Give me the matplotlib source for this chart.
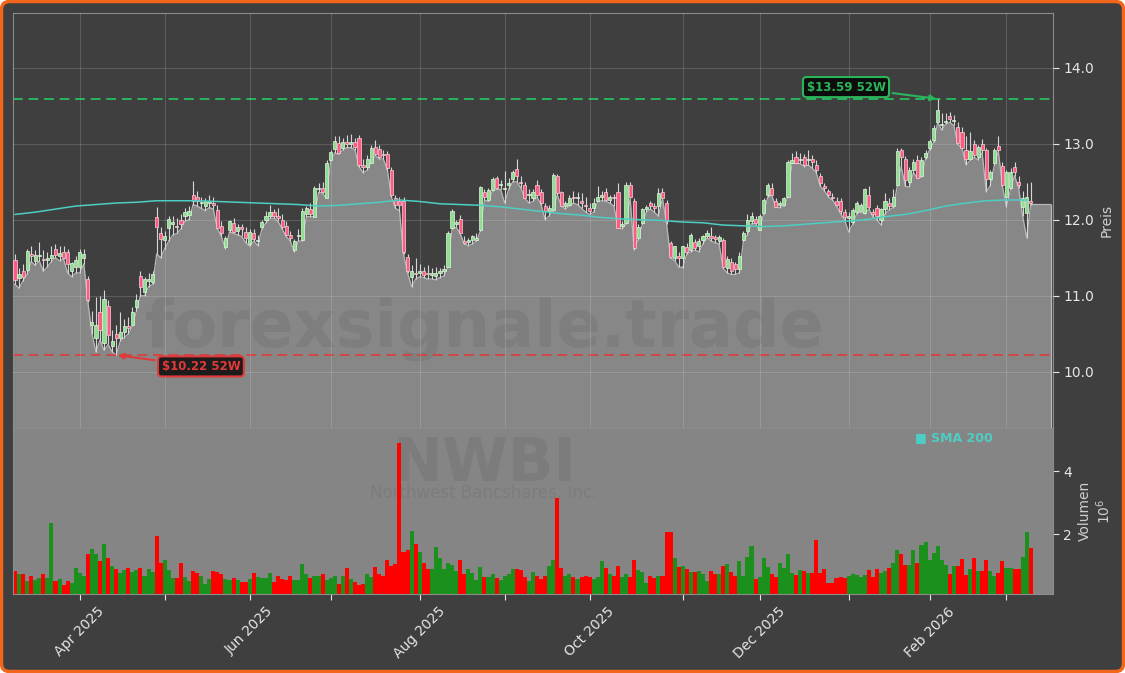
import numpy as np
import pandas as pd
import matplotlib
matplotlib.use("Agg")
import matplotlib.pyplot as plt
from matplotlib.patches import FancyBboxPatch
from matplotlib.transforms import IdentityTransform

# ---------------------------------------
# Data (NWBI, daily)
# ---------------------------------------
holidays = ["2025-04-18", "2025-05-26", "2025-06-19", "2025-07-04", "2025-09-01",
            "2025-11-27", "2025-12-25", "2026-01-01", "2026-01-19", "2026-02-16"]
dates = pd.bdate_range("2025-03-10", "2026-03-10")
dates = dates[~dates.isin(pd.to_datetime(holidays))]

opens = [11.47, 11.24, 11.32, 11.34, 11.55, 11.46, 11.52, 11.48, 11.47, 11.50,
         11.62, 11.52, 11.58, 11.58, 11.32, 11.38, 11.38, 11.50, 11.22, 10.62,
         10.45, 10.78, 10.38, 10.86, 10.34, 10.50, 10.45, 10.52, 10.60, 10.62,
         10.85, 11.26, 11.05, 11.20, 11.18, 12.04, 11.82, 11.74, 11.89, 11.95,
         11.92, 12.00, 12.05, 12.06, 12.33, 12.30, 12.22, 12.18, 12.22, 12.22,
         12.13, 11.92, 11.64, 11.86, 11.96, 11.85, 11.90, 11.84, 11.68, 11.82,
         11.72, 11.91, 12.00, 12.05, 12.10, 12.05, 12.00, 11.92, 11.80, 11.60,
         11.78, 11.74, 12.08, 12.14, 12.04, 12.40, 12.42, 12.28, 12.79, 12.93,
         13.01, 12.94, 13.02, 13.00, 13.02, 13.08, 12.72, 12.70, 12.75, 12.96,
         12.93, 12.87, 12.86, 12.66, 12.29, 12.25, 12.24, 11.51, 11.25, 11.30,
         11.30, 11.32, 11.30, 11.27, 11.26, 11.30, 11.33, 11.38, 11.89, 11.95,
         12.01, 11.72, 11.71, 11.74, 11.74, 11.87, 12.37, 12.26, 12.39, 12.55,
         12.46, 12.40, 12.46, 12.53, 12.67, 12.50, 12.46, 12.32, 12.29, 12.46,
         12.36, 12.18, 12.12, 12.13, 12.57, 12.36, 12.18, 12.20, 12.30, 12.28,
         12.25, 12.20, 12.15, 12.15, 12.25, 12.30, 12.37, 12.26, 12.30, 12.37,
         11.92, 11.96, 12.46, 12.24, 11.76, 11.96, 12.14, 12.22, 12.18, 12.18,
         12.36, 12.22, 11.70, 11.50, 11.52, 11.50, 11.64, 11.60, 11.71, 11.66,
         11.74, 11.78, 11.78, 11.77, 11.72, 11.74, 11.37, 11.45, 11.42, 11.35,
         11.74, 11.85, 11.98, 12.01, 11.87, 12.09, 12.33, 12.42, 12.25, 12.20,
         12.20, 12.30, 12.75, 12.83, 12.78, 12.82, 12.78, 12.80, 12.72, 12.58,
         12.44, 12.38, 12.30, 12.25, 12.25, 12.10, 12.02, 11.97, 12.10, 12.12,
         12.09, 12.33, 12.10, 12.16, 12.00, 12.14, 12.22, 12.18, 12.46, 12.92,
         12.80, 12.50, 12.66, 12.79, 12.58, 12.82, 12.95, 13.05, 13.29, 13.25,
         13.28, 13.36, 13.30, 13.22, 13.16, 12.92, 12.80, 13.00, 12.83, 13.00,
         12.92, 12.53, 12.75, 12.97, 12.71, 12.30, 12.42, 12.70, 12.50, 12.17,
         12.09, 12.25]
highs = [11.55, 11.36, 11.42, 11.62, 11.66, 11.60, 11.71, 11.60, 11.58, 11.66,
         11.68, 11.66, 11.66, 11.62, 11.45, 11.52, 11.62, 11.62, 11.26, 10.80,
         10.98, 11.00, 11.08, 10.95, 10.55, 10.62, 10.78, 10.70, 10.72, 10.85,
         11.02, 11.33, 11.25, 11.30, 11.32, 12.17, 11.90, 11.85, 12.05, 12.05,
         12.02, 12.08, 12.15, 12.18, 12.51, 12.38, 12.30, 12.28, 12.32, 12.30,
         12.20, 11.98, 11.78, 12.00, 12.02, 11.95, 11.95, 11.90, 11.88, 11.88,
         11.80, 12.00, 12.12, 12.20, 12.14, 12.15, 12.08, 11.98, 11.85, 11.75,
         11.88, 12.15, 12.18, 12.22, 12.45, 12.48, 12.50, 12.78, 12.92, 13.10,
         13.10, 13.08, 13.12, 13.13, 13.08, 13.12, 12.80, 12.85, 12.98, 13.05,
         12.98, 12.92, 12.90, 12.70, 12.32, 12.30, 12.30, 11.55, 11.40, 11.50,
         11.42, 11.38, 11.40, 11.36, 11.38, 11.36, 11.40, 11.85, 12.14, 12.00,
         12.06, 11.78, 11.76, 11.80, 11.82, 12.45, 12.40, 12.42, 12.56, 12.58,
         12.52, 12.64, 12.55, 12.66, 12.80, 12.58, 12.50, 12.40, 12.40, 12.52,
         12.40, 12.22, 12.20, 12.62, 12.60, 12.38, 12.24, 12.32, 12.38, 12.36,
         12.35, 12.30, 12.22, 12.28, 12.45, 12.38, 12.42, 12.32, 12.34, 12.48,
         11.98, 12.50, 12.50, 12.28, 11.95, 12.16, 12.20, 12.25, 12.22, 12.42,
         12.42, 12.26, 11.72, 11.65, 11.58, 11.66, 11.70, 11.82, 11.75, 11.76,
         11.80, 11.86, 11.90, 11.80, 11.80, 11.76, 11.52, 11.50, 11.45, 11.58,
         11.85, 12.08, 12.10, 12.05, 12.08, 12.28, 12.48, 12.48, 12.28, 12.25,
         12.30, 12.78, 12.88, 12.90, 12.88, 12.86, 12.92, 12.85, 12.78, 12.62,
         12.48, 12.40, 12.35, 12.30, 12.28, 12.14, 12.10, 12.15, 12.24, 12.22,
         12.42, 12.45, 12.14, 12.20, 12.16, 12.35, 12.28, 12.40, 12.95, 12.95,
         12.84, 12.70, 12.80, 12.85, 12.82, 12.92, 13.06, 13.24, 13.59, 13.40,
         13.40, 13.42, 13.38, 13.28, 13.22, 13.10, 13.15, 13.05, 12.98, 13.06,
         12.95, 12.66, 12.95, 13.10, 12.76, 12.66, 12.68, 12.76, 12.58, 12.38,
         12.48, 12.50]
lows = [11.15, 11.10, 11.20, 11.28, 11.45, 11.40, 11.46, 11.32, 11.38, 11.45,
        11.50, 11.46, 11.48, 11.30, 11.25, 11.30, 11.30, 11.42, 10.92, 10.50,
        10.26, 10.42, 10.28, 10.36, 10.26, 10.22, 10.40, 10.45, 10.50, 10.60,
        10.80, 11.00, 11.00, 11.12, 11.15, 11.55, 11.50, 11.62, 11.72, 11.80,
        11.82, 11.88, 11.98, 12.00, 12.20, 12.18, 12.15, 12.12, 12.16, 12.14,
        11.88, 11.78, 11.62, 11.84, 11.82, 11.80, 11.78, 11.70, 11.65, 11.72,
        11.66, 11.88, 11.96, 12.02, 12.02, 11.98, 11.88, 11.78, 11.72, 11.58,
        11.72, 11.72, 12.04, 12.04, 12.04, 12.36, 12.35, 12.28, 12.78, 12.88,
        12.86, 12.92, 12.95, 12.95, 12.92, 12.70, 12.62, 12.65, 12.75, 12.85,
        12.80, 12.80, 12.66, 12.30, 12.15, 12.12, 11.55, 11.30, 11.12, 11.22,
        11.25, 11.24, 11.22, 11.22, 11.21, 11.24, 11.26, 11.38, 11.88, 11.90,
        11.82, 11.68, 11.66, 11.68, 11.72, 11.85, 12.26, 12.24, 12.38, 12.40,
        12.40, 12.22, 12.40, 12.50, 12.50, 12.42, 12.28, 12.22, 12.24, 12.30,
        12.20, 12.00, 12.05, 12.12, 12.33, 12.18, 12.14, 12.18, 12.22, 12.20,
        12.15, 12.10, 12.07, 12.10, 12.24, 12.25, 12.24, 12.22, 12.18, 11.89,
        11.88, 11.94, 12.28, 11.60, 11.74, 11.94, 12.10, 12.14, 12.10, 12.05,
        12.28, 11.95, 11.50, 11.46, 11.38, 11.37, 11.55, 11.58, 11.60, 11.58,
        11.68, 11.76, 11.72, 11.70, 11.68, 11.36, 11.30, 11.28, 11.28, 11.30,
        11.72, 11.80, 11.95, 11.95, 11.86, 12.08, 12.30, 12.32, 12.17, 12.16,
        12.18, 12.30, 12.74, 12.74, 12.74, 12.70, 12.72, 12.68, 12.62, 12.44,
        12.38, 12.30, 12.26, 12.18, 12.08, 12.00, 11.84, 11.94, 12.08, 12.10,
        12.08, 12.14, 12.04, 12.00, 11.93, 12.08, 12.13, 12.16, 12.44, 12.70,
        12.44, 12.43, 12.62, 12.55, 12.56, 12.80, 12.92, 13.02, 13.28, 13.18,
        13.26, 13.28, 13.24, 12.99, 12.95, 12.72, 12.78, 12.82, 12.79, 12.88,
        12.37, 12.45, 12.72, 12.90, 12.44, 12.17, 12.40, 12.58, 12.42, 12.05,
        11.76, 12.20]
closes = [11.21, 11.28, 11.25, 11.59, 11.52, 11.54, 11.54, 11.47, 11.50, 11.53,
          11.54, 11.56, 11.50, 11.42, 11.43, 11.47, 11.58, 11.55, 10.95, 10.66,
          10.62, 10.55, 10.96, 10.49, 10.40, 10.45, 10.52, 10.60, 10.58, 10.78,
          10.95, 11.12, 11.22, 11.22, 11.28, 11.91, 11.75, 11.78, 12.01, 11.96,
          11.90, 11.95, 12.10, 12.12, 12.24, 12.24, 12.22, 12.24, 12.25, 12.20,
          11.89, 11.82, 11.76, 11.99, 11.84, 11.90, 11.88, 11.76, 11.84, 11.75,
          11.72, 11.97, 12.05, 12.10, 12.05, 12.02, 11.90, 11.80, 11.76, 11.72,
          11.80, 12.12, 12.15, 12.07, 12.42, 12.42, 12.37, 12.74, 12.89, 13.03,
          12.88, 13.02, 13.00, 13.02, 12.96, 12.72, 12.70, 12.80, 12.95, 12.86,
          12.82, 12.85, 12.68, 12.32, 12.20, 12.20, 11.58, 11.32, 11.32, 11.28,
          11.32, 11.27, 11.28, 11.30, 11.30, 11.33, 11.35, 11.83, 12.11, 11.96,
          11.83, 11.70, 11.74, 11.78, 11.76, 12.43, 12.30, 12.39, 12.53, 12.42,
          12.47, 12.42, 12.48, 12.63, 12.57, 12.48, 12.28, 12.33, 12.37, 12.32,
          12.22, 12.11, 12.16, 12.59, 12.35, 12.18, 12.22, 12.29, 12.28, 12.30,
          12.22, 12.18, 12.12, 12.22, 12.30, 12.33, 12.26, 12.30, 12.28, 11.89,
          11.95, 12.46, 12.30, 11.63, 11.91, 12.14, 12.17, 12.18, 12.16, 12.35,
          12.29, 11.98, 11.51, 11.65, 11.50, 11.66, 11.58, 11.80, 11.63, 11.72,
          11.78, 11.83, 11.76, 11.75, 11.77, 11.38, 11.49, 11.32, 11.35, 11.52,
          11.83, 12.00, 12.05, 11.96, 12.05, 12.26, 12.46, 12.33, 12.17, 12.22,
          12.28, 12.76, 12.79, 12.75, 12.78, 12.72, 12.80, 12.76, 12.66, 12.48,
          12.42, 12.32, 12.28, 12.20, 12.11, 12.03, 12.05, 12.13, 12.22, 12.20,
          12.40, 12.17, 12.07, 12.05, 12.14, 12.25, 12.18, 12.30, 12.90, 12.82,
          12.52, 12.66, 12.76, 12.55, 12.79, 12.88, 13.03, 13.21, 13.45, 13.26,
          13.30, 13.32, 13.30, 13.01, 12.95, 12.80, 12.90, 12.85, 12.96, 12.92,
          12.53, 12.63, 12.92, 12.92, 12.46, 12.63, 12.63, 12.63, 12.46, 12.29,
          12.30, 12.22]
# volume in millions
volumes = [0.83, 0.73, 0.73, 0.50, 0.68, 0.55, 0.60, 0.73, 0.60, 2.35,
           0.50, 0.57, 0.38, 0.50, 0.45, 0.92, 0.76, 0.66, 1.37, 1.52,
           1.37, 1.14, 1.68, 1.24, 0.98, 0.89, 0.76, 0.86, 0.92, 0.79,
           0.86, 0.92, 0.68, 0.89, 0.79, 1.94, 1.08, 1.17, 0.86, 0.60,
           0.60, 1.08, 0.63, 0.50, 0.83, 0.76, 0.68, 0.42, 0.57, 0.83,
           0.79, 0.73, 0.57, 0.55, 0.60, 0.55, 0.48, 0.48, 0.57, 0.76,
           0.63, 0.60, 0.60, 0.76, 0.48, 0.66, 0.57, 0.55, 0.66, 0.55,
           0.55, 1.06, 0.73, 0.60, 0.66, 0.68, 0.73, 0.55, 0.60, 0.68,
           0.42, 0.66, 0.92, 0.57, 0.48, 0.38, 0.42, 0.73, 0.63, 0.95,
           0.73, 0.68, 1.19, 1.00, 1.06, 4.89,
           1.43, 1.50, 2.10, 1.70, 1.43, 1.08, 0.89, 0.89, 1.59, 1.24,
           0.89, 1.10, 1.03, 0.83, 1.17, 0.73, 0.89, 0.76, 0.55, 0.95,
           0.63, 0.63, 0.73, 0.60, 0.55, 0.66, 0.73, 0.89, 0.89, 0.86,
           0.63, 0.50, 0.79, 0.66, 0.57, 0.68, 1.00, 1.19, 3.14, 0.92,
           0.68, 0.73, 0.63, 0.57, 0.63, 0.66, 0.63, 0.57, 0.63, 1.14,
           0.92, 0.73, 0.66, 0.98, 0.63, 0.73, 0.63, 1.17, 0.86, 0.79,
           0.44, 0.68, 0.60, 0.66, 0.68, 2.06, 2.06, 1.24, 0.95, 1.00,
           0.89, 0.79, 0.79, 0.83, 0.73, 0.50, 0.83, 0.73, 0.73, 1.00,
           1.06, 0.79, 0.68, 1.14, 0.68, 1.27, 1.62,
           0.57, 0.64, 1.24, 0.96, 0.73, 0.64, 1.10, 0.92, 1.36, 0.78,
           0.70, 0.86, 0.82, 0.76, 0.76, 1.81, 0.76, 0.89, 0.44, 0.44,
           0.60, 0.64, 0.60, 0.67, 0.73, 0.70, 0.64, 0.70, 0.86, 0.64,
           0.89, 0.78, 0.82, 0.92, 1.09, 1.49, 1.37, 1.02, 1.02, 1.49,
           1.10, 1.65, 1.74, 1.17, 1.39, 1.62, 1.17, 1.02, 0.73, 0.99,
           0.99, 1.20, 0.70, 0.89, 1.24, 0.82, 0.82, 1.17, 0.82, 0.67,
           0.78, 1.14, 0.92, 0.94, 0.89, 0.89, 1.27, 2.06, 1.56]
# SMA 200, one value every 5 trading days
sma200 = [12.07, 12.10, 12.14, 12.18, 12.20, 12.22, 12.23, 12.25, 12.25, 12.25,
          12.24, 12.23, 12.22, 12.21, 12.20, 12.18, 12.19, 12.21, 12.23, 12.26,
          12.24, 12.21, 12.20, 12.19, 12.17, 12.14, 12.11, 12.08, 12.06, 12.03,
          12.01, 12.00, 11.99, 11.97, 11.96, 11.93, 11.92, 11.91, 11.92, 11.94,
          11.96, 11.98, 12.00, 12.04, 12.07, 12.12, 12.18, 12.22, 12.25, 12.26,
          12.26]

ticker = "NWBI"
company = "Northwest Bancshares, Inc."

# ---------------------------------------
# Colors
# ---------------------------------------
BG = "#3f3f3f"
FILL = "#878787"
UP, UP_EDGE = "#8ee08e", "#e2f5e2"
DOWN, DOWN_EDGE = "#ff5a82", "#f4d4dc"
VOL_UP, VOL_DOWN = "#1c901c", "#ff0000"
SMA_COL = "#4ecdc4"
HI_COL, LO_COL = "#2bb55a", "#e03a3a"
TXT = "#e6e6e6"

n = len(closes)
x = np.arange(n)
o = np.array(opens); h = np.array(highs); l = np.array(lows); c = np.array(closes)
up = c >= o

fig = plt.figure(figsize=(11.25, 6.73), dpi=100)
fig.patch.set_facecolor("white")
fig.patches.append(FancyBboxPatch((1.5, 1.5), 1122, 670, boxstyle="round,pad=0,rounding_size=8",
                                  transform=IdentityTransform(), fc=BG, ec="#f2661b", lw=2.5,
                                  zorder=-10, figure=fig))

ax = fig.add_axes([0.01156, 0.36404, 0.92444, 0.61664])
axv = fig.add_axes([0.01156, 0.11738, 0.92444, 0.24666], sharex=ax)

# ---------------------------------------
# Price pane
# ---------------------------------------
ax.set_facecolor(BG)
ymin, ymax = 9.26, 14.72
# area under the lows, padded to the left edge and 5 slots past the last day
xf = np.concatenate([[-0.5], np.arange(n + 5)])
lf = np.concatenate([[l[0]], l, np.full(5, l[-1])])
ax.fill_between(xf, lf, ymin - 1, color=FILL, zorder=1, lw=0)
ax.plot(xf, lf, color="#b8b8b8", lw=0.9, zorder=1.5)
ax.plot([xf[-1], xf[-1]], [ymin - 1, lf[-1]], color="#b8b8b8", lw=0.9, zorder=1.5)

ax.text(0.453, 0.24, "forexsignale.trade", transform=ax.transAxes, fontsize=47,
        fontweight="bold", color="#5a5a5a", alpha=0.18, ha="center", va="center", zorder=1.6)

ax.vlines(x, l, h, color="#d6d6d6", lw=0.8, zorder=3)
body = np.maximum(np.abs(c - o), 0.015)
ax.bar(x, body, bottom=np.minimum(o, c), width=0.78,
       color=np.where(up, UP, DOWN), edgecolor=np.where(up, UP_EDGE, DOWN_EDGE),
       lw=0.5, zorder=4)

ax.plot(x[::5], sma200, color=SMA_COL, lw=1.1, zorder=5)

i_hi = int(np.argmax(h)); i_lo = int(np.argmin(l))
ax.axhline(h[i_hi], color=HI_COL, ls=(0, (5, 3)), lw=1.4, zorder=2)
ax.axhline(l[i_lo], color=LO_COL, ls=(0, (5, 3)), lw=1.4, alpha=0.85, zorder=2)

ax.annotate(f"${h[i_hi]:.2f} 52W", xy=(i_hi, h[i_hi]), xytext=(-66, 8.5),
            textcoords="offset points", ha="center", va="center", fontsize=8.5,
            fontweight="bold", color=HI_COL, zorder=6,
            bbox=dict(boxstyle="round,pad=0.3", fc="#0c0c0c", ec=HI_COL, lw=1.5),
            arrowprops=dict(arrowstyle="-|>", color=HI_COL, lw=1.5, shrinkB=1))
ax.annotate(f"${l[i_lo]:.2f} 52W", xy=(i_lo, l[i_lo]), xytext=(61, -8.2),
            textcoords="offset points", ha="center", va="center", fontsize=8.5,
            fontweight="bold", color=LO_COL, zorder=6,
            bbox=dict(boxstyle="round,pad=0.3", fc="#1c1c1c", ec=LO_COL, lw=1.5),
            arrowprops=dict(arrowstyle="-|>", color=LO_COL, lw=1.5, shrinkB=1))

ax.set_xlim(-0.5, n + 4.5)
ax.set_ylim(ymin, ymax)
ax.yaxis.tick_right()
ax.yaxis.set_label_position("right")
ax.set_yticks([10, 11, 12, 13, 14])
ax.set_yticklabels([f"{v:.1f}" for v in [10, 11, 12, 13, 14]])
ax.set_ylabel("Preis", color="#cfcfcf", fontsize=10)
ax.tick_params(axis="y", colors=TXT, labelsize=10, length=4)
ax.tick_params(axis="x", bottom=False, labelbottom=False)
ax.grid(True, color="white", alpha=0.15, lw=0.8)
ax.set_axisbelow(False)
for s in ax.spines.values():
    s.set_color("#8c8c8c")

# ---------------------------------------
# Volume pane
# ---------------------------------------
axv.set_facecolor("#858585")
axv.text(0.453, 0.68, ticker, transform=axv.transAxes, fontsize=43, fontweight="bold",
         color="#5a5a5a", alpha=0.2, ha="center", va="baseline", zorder=1)
axv.text(0.453, 0.58, company, transform=axv.transAxes, fontsize=12,
         color="#5a5a5a", alpha=0.2, ha="center", va="baseline", zorder=1)
axv.bar(x, volumes, width=1.0, color=np.where(up, VOL_UP, VOL_DOWN), zorder=2)
axv.text(0.867, 0.94, "\u25a0 SMA 200", transform=axv.transAxes, fontsize=9,
         fontweight="bold", color=SMA_COL, ha="left", va="center", zorder=3)

axv.set_ylim(0.1, 5.37)
axv.yaxis.tick_right()
axv.yaxis.set_label_position("right")
axv.set_yticks([2, 4])
axv.set_yticklabels(["2", "4"])
axv.set_ylabel("Volumen\n$10^6$", color="#cfcfcf", fontsize=10)
axv.tick_params(axis="y", colors=TXT, labelsize=10, length=4)

month_idx = [i for i in range(1, n) if dates[i].month != dates[i - 1].month]
month_lab = [dates[i].strftime("%b %Y") if dates[i].month % 2 == 0 else "" for i in month_idx]
axv.set_xticks(month_idx)
axv.set_xticklabels(month_lab, rotation=45, ha="center")
axv.tick_params(axis="x", colors=TXT, labelsize=10, length=4)
for s in axv.spines.values():
    s.set_color("#8c8c8c")

fig.savefig("out.png", dpi=100, facecolor=fig.get_facecolor())
